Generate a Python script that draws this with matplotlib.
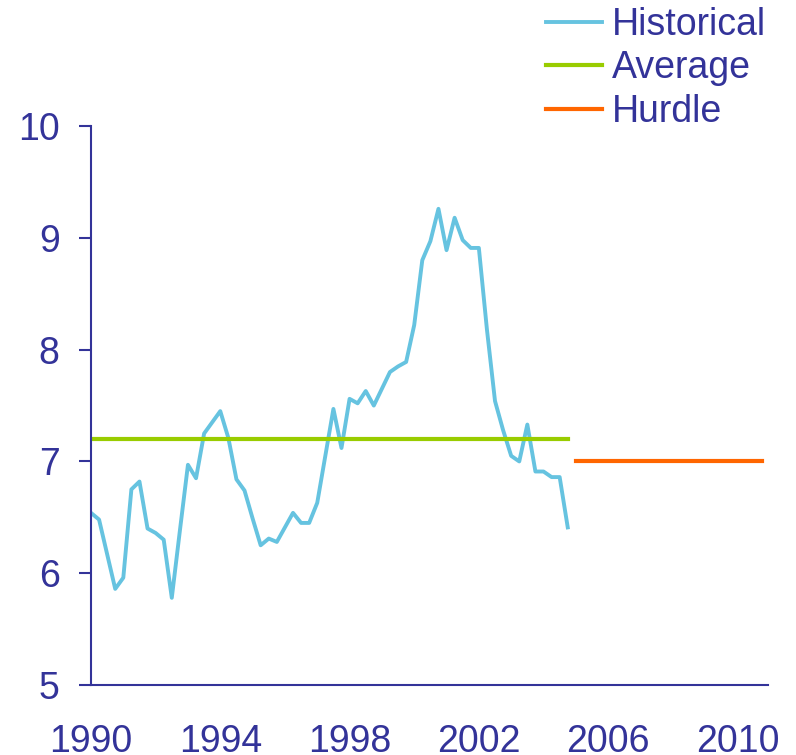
import matplotlib
matplotlib.use("Agg")
import matplotlib.pyplot as plt
import numpy as np

# Quarterly data, 1990 Q1 .. 2004 Q4
historical = [6.54, 6.48, 6.17, 5.86, 5.96, 6.75, 6.82, 6.40, 6.36, 6.30, 5.78, 6.38,
              6.97, 6.85, 7.25, 7.35, 7.45, 7.21, 6.84, 6.74, 6.49, 6.25, 6.31, 6.28,
              6.41, 6.54, 6.45, 6.45, 6.63, 7.05, 7.47, 7.12, 7.56, 7.52, 7.63, 7.50,
              7.65, 7.80, 7.85, 7.89, 8.22, 8.80, 8.97, 9.26, 8.89, 9.18, 8.98, 8.91,
              8.91, 8.18, 7.54, 7.28, 7.05, 7.00, 7.33, 6.91, 6.91, 6.86, 6.86, 6.41]
average_value = 7.2
hurdle_value = 7.0
hist_start_year = 1990.0
hurdle_start_year = 2005.0
hurdle_end_year = 2010.75
xticks = [1990, 1994, 1998, 2002, 2006, 2010]
yticks = [5, 6, 7, 8, 9, 10]

text_color = "#333399"
plt.rcParams['font.family'] = ['Liberation Sans', 'DejaVu Sans']

fig = plt.figure(figsize=(7.96, 7.55), dpi=100)
ax = fig.add_axes([0.1143, 0.0927, 0.965 - 0.1143, 0.833 - 0.0927])

n = len(historical)
x_hist = hist_start_year + np.arange(n) / 4.0
ax.plot(x_hist, historical, color="#66C3E0", lw=2.8, label="Historical", solid_joinstyle='round')
ax.plot([x_hist[0], x_hist[-1]], [average_value, average_value], color="#99CC00", lw=3.0, label="Average")
ax.plot([hurdle_start_year, hurdle_end_year], [hurdle_value, hurdle_value], color="#FF6600", lw=3.0, label="Hurdle")

ax.set_xlim(1990, 2010.95)
ax.set_ylim(5, 10)
ax.set_xticks(xticks)
ax.set_yticks(yticks)
for s in ['top', 'right']:
    ax.spines[s].set_visible(False)
for s in ['left', 'bottom']:
    ax.spines[s].set_color(text_color)
    ax.spines[s].set_linewidth(1.5)
ax.tick_params(axis='y', colors=text_color, labelsize=27, length=8.6, width=1.5, pad=14)
ax.tick_params(axis='x', colors=text_color, labelsize=27, length=0, pad=28)

leg = fig.legend(loc='upper left', bbox_to_anchor=(0.667, 1.011), frameon=False,
                 fontsize=27, handlelength=1.5, handletextpad=0.25, labelspacing=0.2,
                 borderaxespad=0)
for t in leg.get_texts():
    t.set_color(text_color)

fig.savefig("out.png", dpi=100)
